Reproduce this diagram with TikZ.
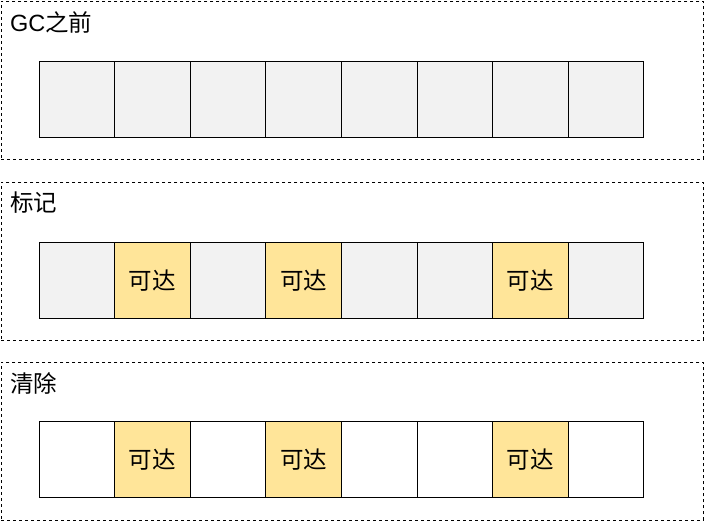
\documentclass[tikz,border=0pt]{standalone}
\usepackage{fontspec}
\setmainfont{Liberation Sans}
\newfontfamily\cjk{Noto Sans CJK SC}
\definecolor{cellgrey}{HTML}{F2F2F2}
\definecolor{cellyellow}{HTML}{FFE599}
\begin{document}
\begin{tikzpicture}[x=1pt,y=-1pt,
  panel/.style={draw=black, line width=0.8pt, dash pattern=on 3pt off 3pt, anchor=north west, inner sep=0pt},
  cell/.style={draw=black, line width=1pt, anchor=north west, minimum width=75.6pt, minimum height=75.6pt, inner sep=0pt, font=\cjk\fontsize{23.5}{25}\selectfont},
  ptitle/.style={anchor=west, inner sep=0pt, font=\fontsize{23.5}{25}\selectfont}]
\useasboundingbox (0,0) rectangle (705,521);
% panels
\node[panel, minimum width=702pt, minimum height=158pt] (p1) at (1,1) {};
\node[panel, minimum width=702pt, minimum height=158pt] (p2) at (1,182) {};
\node[panel, minimum width=702pt, minimum height=158pt] (p3) at (1,362) {};
% titles
\node[ptitle] (t1) at (10,22) {GC{\cjk 之前}};
\node[ptitle] (t2) at (10,203) {\cjk 标记};
\node[ptitle] (t3) at (10,383) {\cjk 清除};
% row 1
\foreach \i in {0,...,7} {
  \node[cell, fill=cellgrey] (a\i) at ({38.5+\i*75.6},61) {};
}
% row 2
\foreach \i/\c/\t in {0/cellgrey/,1/cellyellow/可达,2/cellgrey/,3/cellyellow/可达,4/cellgrey/,5/cellgrey/,6/cellyellow/可达,7/cellgrey/} {
  \node[cell, fill=\c] (b\i) at ({38.5+\i*75.6},242.3) {\t};
}
% row 3
\foreach \i/\c/\t in {0/white/,1/cellyellow/可达,2/white/,3/cellyellow/可达,4/white/,5/white/,6/cellyellow/可达,7/white/} {
  \node[cell, fill=\c] (c\i) at ({38.5+\i*75.6},421.3) {\t};
}
\end{tikzpicture}
\end{document}
